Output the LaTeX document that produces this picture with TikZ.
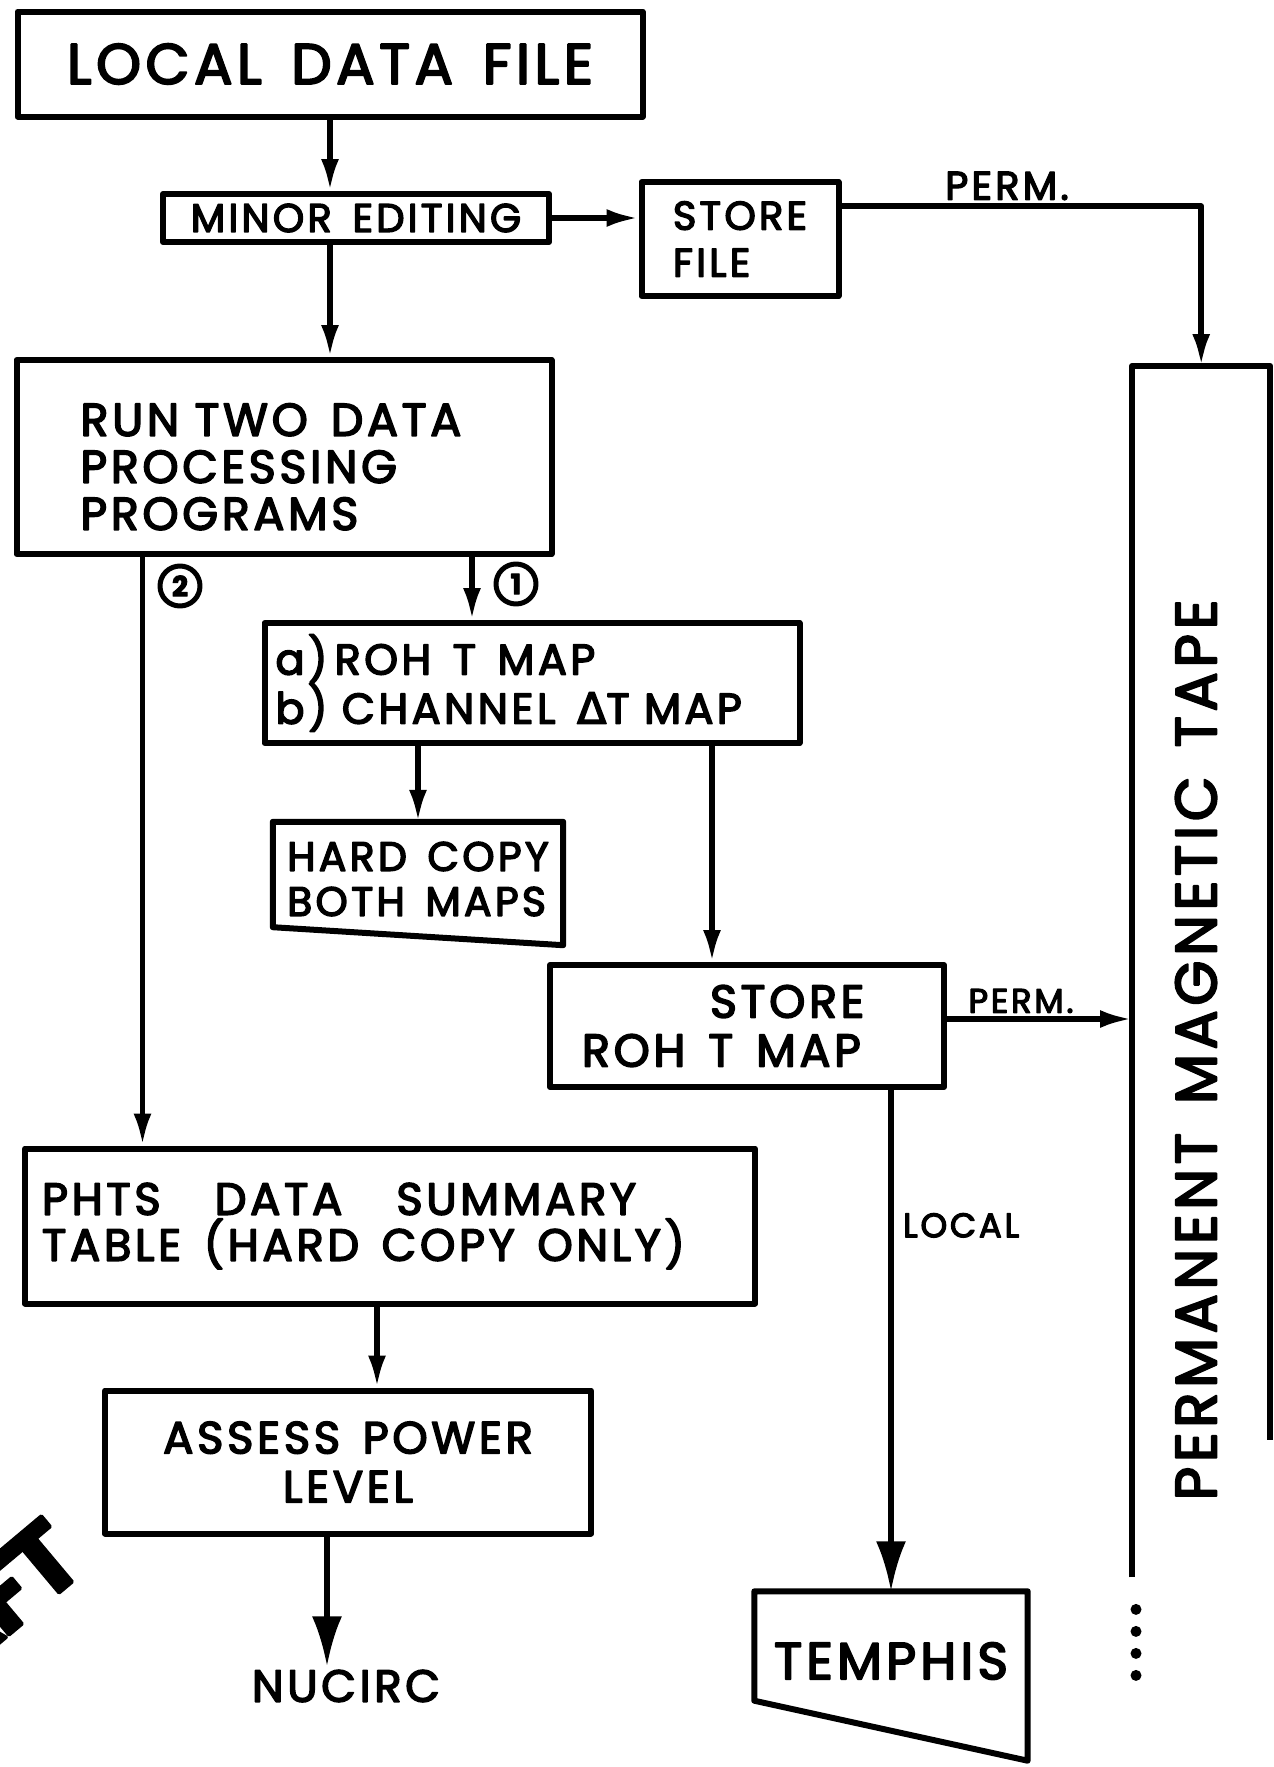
\documentclass[tikz,border=0pt]{standalone}
\usepackage{fontspec}
\setmainfont{Poppins}[LetterSpace=8,WordSpace=1.5,FakeBold=3.5]
\newfontfamily\greekfont{DejaVu Sans}[FakeBold=3.5]
\usetikzlibrary{arrows.meta,positioning,calc}
\newcommand{\fsz}[2]{\fontsize{#1}{#2}\selectfont}
\tikzset{
  box/.style     = {draw, line width=6pt, rectangle, inner sep=0pt, align=center},
  lbox/.style    = {box, align=left},
  flow/.style    = {-{Latex[length=32pt,width=18pt]}, line width=5.5pt},
  bigflow/.style = {-{Latex[length=50pt,width=30pt]}, line width=5.5pt},
  tag/.style     = {font=\fsz{34}{36}},
  num/.style     = {draw, circle, line width=5pt, inner sep=0pt,
                    minimum size=40pt, font=\bfseries\fsz{28}{28}},
}

\begin{document}
\begin{tikzpicture}[x=1pt,y=-1pt,line join=round]
\useasboundingbox (0,0) rectangle (1274,1767);
% stamp in the corner
\begin{scope}
\clip (0,0) rectangle (1274,1767);
\node[rotate=40, anchor=base east, font=\bfseries\fsz{100}{100}\addfontfeature{LetterSpace=-4}]
      (stamp) at (91,1566) {DRAFT};
\end{scope}
% boxes
\node[box, minimum width=625pt, minimum height=105pt, font=\fsz{57}{60}] (ldf) at (330,64) {LOCAL DATA FILE};
\node[box, minimum width=386pt, minimum height=48pt, font=\fsz{40}{44}] (minor) at (356,218) {MINOR EDITING};
\node[lbox, minimum width=197pt, minimum height=114pt, font=\fsz{40}{47}] (sfile) at (740,239) {STORE\\FILE};
\node[lbox, minimum width=535pt, minimum height=194pt, inner xsep=64pt, text width=407pt,
      font=\fsz{46}{47}] (run) at (284,457)
      {\rule{0pt}{52pt}RUN TWO\enspace DATA\\PROCESSING\\PROGRAMS};
\node[lbox, minimum width=535pt, minimum height=120pt, inner xsep=11pt, text width=513pt,
      font=\fsz{43}{48}] (maps) at (532,683)
      {a)\,ROH\enspace T\enspace MAP\\b) CHANNEL\enspace{\greekfont Δ}T MAP};
\node[align=left, minimum width=290pt, minimum height=114pt, inner sep=0pt,
      font=\fsz{41}{45}] (hard) at (418,879) {HARD\enspace COPY\\BOTH\enspace MAPS};
\node[lbox, minimum width=394pt, minimum height=122pt, inner xsep=32pt, text width=330pt,
      font=\fsz{46}{49}] (storeroh) at (747,1026) {\hspace*{128pt}STORE\\ROH\enspace T\enspace MAP};
\node[lbox, minimum width=730pt, minimum height=155pt, inner xsep=17pt, text width=696pt,
      font=\fsz{45}{46}] (phts) at (390,1226)
      {PHTS\hspace{1.2em}DATA\hspace{1.2em}SUMMARY\\TABLE\enspace(HARD\enspace COPY\enspace ONLY)};
\node[box, minimum width=486pt, minimum height=143pt, font=\fsz{45}{49}] (assess) at (348,1462)
      {ASSESS\enspace POWER\\LEVEL};
\node[font=\fsz{45}{45}] (nucirc) at (346,1686) {NUCIRC};
\node[minimum width=273pt, minimum height=139pt, inner sep=0pt, font=\fsz{52}{52}] (temphis)
      at (891,1661) {TEMPHIS};
% slanted outlines
\draw[line width=6pt] (hard.north west) -- (hard.north east) -- ([yshift=-9pt]hard.south east)
      -- ([yshift=9pt]hard.south west) -- cycle;
\draw[line width=6pt] (temphis.north west) -- (temphis.north east) -- ([yshift=-30pt]temphis.south east)
      -- ([yshift=30pt]temphis.south west) -- cycle;
% tape
\node[minimum width=138pt, minimum height=1211pt, inner sep=0pt, anchor=north west] (tape) at (1132,366) {};
\node[rotate=90, font=\fsz{58}{58}] (tapelabel) at (1196,1050) {PERMANENT\enspace MAGNETIC\enspace TAPE};
\draw[line width=6pt] (tape.south west) -- (tape.north west) -- (tape.north east)
      -- ([yshift=137pt]tape.south east);
\foreach \k in {1,...,4}
  \fill ([xshift=4pt,yshift=-10pt-22pt*\k]tape.south west) circle (5.5pt);
% branch labels
\node[num] (one) at (516,584) {1};
\node[num] (two) at (180,586) {2};
% connectors
\coordinate (p1) at ($(maps.north)+(-60,0)$);
\coordinate (p2) at ($(run.south west)+(129,0)$);
\coordinate (p3) at ($(storeroh.north)+(-35,0)$);
\coordinate (p4) at ($(storeroh.east)+(0,-7)$);
\coordinate (p5) at ($(phts.south)+(-13,0)$);
\draw[flow] (ldf.south) -- (ldf.south |- minor.north);
\draw[flow] (minor.south -| ldf.south) -- (run.north -| ldf.south);
\draw[flow] (minor.east) -- (minor.east -| sfile.west);
\draw[flow] ([yshift=33pt]sfile.east) -| node[tag, font=\fsz{40}{40}, above, pos=0.23] {PERM.} (tape.north);
\draw[flow] (p1 |- run.south) -- (p1);
\draw[flow] (p2) -- (p2 |- phts.north);
\draw[flow] (hard.north |- maps.south) -- (hard.north);
\draw[flow] (p3 |- maps.south) -- (p3);
\draw[flow] (p4) -- node[tag, above, pos=0.4] {PERM.} (p4 -| tape.west);
\draw[bigflow] (temphis.north |- storeroh.south) -- node[tag, right=6pt, pos=0.27] {LOCAL} (temphis.north);
\draw[flow] (p5) -- (p5 |- assess.north);
\draw[bigflow] ([xshift=-21pt]assess.south) -- ([xshift=-19pt]nucirc.north);
\end{tikzpicture}
\end{document}
